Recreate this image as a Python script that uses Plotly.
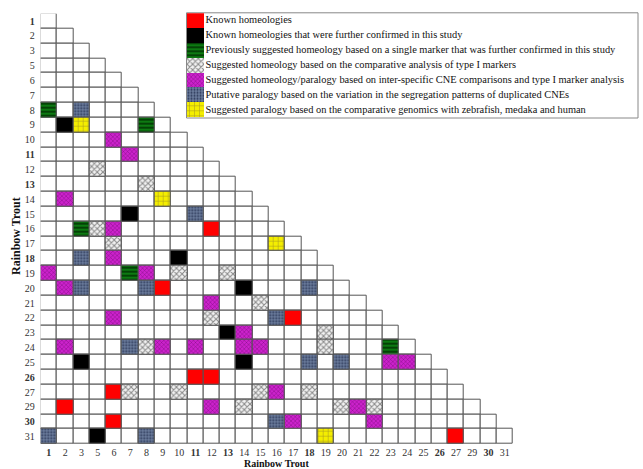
import plotly.graph_objects as go

# Rainbow trout chromosome arms shown on both axes (4 and 28 absent)
chromosomes = [1, 2, 3, 5, 6, 7, 8, 9, 10, 11, 12, 13, 14, 15, 16, 17, 18, 19,
               20, 21, 22, 23, 24, 25, 26, 27, 29, 30, 31]
bold_labels = [1, 11, 13, 18, 26, 30]

# Relationship categories: (row chromosome, column chromosome) pairs
known_homeologies = [(16, 12), (20, 9), (22, 17), (26, 11), (26, 12), (27, 6),
                     (29, 2), (30, 6), (31, 27)]
known_confirmed = [(9, 2), (15, 7), (18, 10), (20, 14), (23, 13), (25, 3),
                   (25, 14), (31, 5)]
single_marker_confirmed = [(8, 1), (9, 8), (16, 3), (19, 7), (24, 23)]
type1_homeology = [(12, 5), (13, 8), (16, 5), (17, 6), (19, 10), (19, 13),
                   (21, 15), (22, 12), (23, 19), (24, 8), (24, 19), (27, 7),
                   (27, 10), (27, 15), (27, 18), (29, 14), (29, 20), (29, 22)]
cne_homeology_paralogy = [(10, 6), (11, 7), (14, 2), (16, 6), (18, 6), (19, 1),
                          (19, 8), (20, 2), (21, 12), (22, 6), (23, 14), (24, 2),
                          (24, 9), (24, 11), (24, 14), (24, 15), (25, 23),
                          (25, 24), (27, 16), (29, 12), (29, 21), (30, 17),
                          (30, 22)]
putative_paralogy = [(8, 3), (15, 11), (18, 3), (20, 3), (20, 8), (20, 18),
                     (22, 16), (24, 7), (25, 18), (25, 20), (30, 16), (31, 1),
                     (31, 8)]
comparative_paralogy = [(9, 3), (14, 9), (17, 16), (31, 19)]

legend_labels = [
    "Known homeologies",
    "Known homeologies that were further confirmed in this study",
    "Previously suggested homeology based on a single marker that was further confirmed in this study",
    "Suggested homeology based on the comparative analysis of type I markers",
    "Suggested homeology/paralogy based on inter-specific CNE comparisons and type I marker analysis",
    "Putative paralogy based on the variation in the segregation patterns of duplicated CNEs",
    "Suggested paralogy based on the comparative genomics with zebrafish, medaka and human",
]

categories = [known_homeologies, known_confirmed, single_marker_confirmed,
              type1_homeology, cne_homeology_paralogy, putative_paralogy,
              comparative_paralogy]

# fill styles: background, pattern shape, pattern colour, size, solidity
styles = [
    dict(bgcolor="#ff0000", shape="", fgcolor="#ff0000", size=4, solidity=0.3),
    dict(bgcolor="#000000", shape="", fgcolor="#000000", size=4, solidity=0.3),
    dict(bgcolor="#0d7a12", shape="-", fgcolor="#002a00", size=4, solidity=0.35),
    dict(bgcolor="#f2f2f2", shape="x", fgcolor="#8a8a8a", size=4, solidity=0.45),
    dict(bgcolor="#cc22cc", shape="x", fgcolor="#7a0a7a", size=3, solidity=0.25),
    dict(bgcolor="#6c7d9e", shape=".", fgcolor="#2c3858", size=3, solidity=0.35),
    dict(bgcolor="#f4ee00", shape="+", fgcolor="#a89a20", size=5, solidity=0.2),
]

W, H = 643, 469
GRID_L, GRID_R, GRID_T, GRID_B = 40.7, 513.0, 13.7, 444.0
LINE = dict(color="#555555", width=1)
SERIF = "Liberation Serif, Times New Roman, serif"

idx = {c: i for i, c in enumerate(chromosomes)}
n = len(chromosomes)

fig = go.Figure()

# empty lower-triangle cells
xs, bases = [], []
for r in range(n):
    for c in range(r + 1):
        xs.append(c)
        bases.append(r - 0.5)
fig.add_trace(go.Bar(x=xs, y=[1] * len(xs), base=bases, width=1,
                     marker=dict(color="white", line=LINE),
                     showlegend=False, hoverinfo="skip"))


def fill_pattern(st):
    return dict(shape=st["shape"], fgcolor=st["fgcolor"], bgcolor=st["bgcolor"],
                size=st["size"], solidity=st["solidity"], fillmode="replace")


# coloured cells, one trace per relationship category
for label, cells, st in zip(legend_labels, categories, styles):
    cx = [idx[c] for r, c in cells]
    cb = [idx[r] - 0.5 for r, c in cells]
    fig.add_trace(go.Bar(x=cx, y=[1] * len(cx), base=cb, width=1, name=label,
                         marker=dict(color=st["bgcolor"], pattern=fill_pattern(st),
                                     line=LINE),
                         showlegend=False, hoverinfo="skip"))

# key: swatches and descriptions drawn on their own axes
LEG_L, LEG_R, LEG_T, LEG_B = 187.0, 638.0, 13.3, 117.5
k = len(legend_labels)
for i, st in enumerate(styles):
    fig.add_trace(go.Bar(x=[8.5], y=[1], base=[i - 0.5], width=17,
                         marker=dict(color=st["bgcolor"], pattern=fill_pattern(st),
                                     line=dict(color=st["bgcolor"], width=0)),
                         xaxis="x2", yaxis="y2", showlegend=False, hoverinfo="skip"))
fig.add_trace(go.Scatter(x=[18.5] * k, y=list(range(k)), text=legend_labels,
                         mode="text", textposition="middle right",
                         textfont=dict(family=SERIF, size=10.4, color="#111111"),
                         xaxis="x2", yaxis="y2", showlegend=False,
                         hoverinfo="skip", cliponaxis=False))

ticktext = [f"<b>{c}</b>" if c in bold_labels else str(c) for c in chromosomes]
tickfont = dict(family=SERIF, size=10, color="#333333")

fig.update_layout(
    width=W, height=H,
    margin=dict(l=0, r=0, t=0, b=0),
    paper_bgcolor="white", plot_bgcolor="rgba(0,0,0,0)",
    barmode="overlay", bargap=0,
    xaxis=dict(domain=[GRID_L / W, GRID_R / W], range=[-0.5, n - 0.5],
               tickmode="array", tickvals=list(range(n)), ticktext=ticktext,
               tickfont=tickfont, showgrid=False, zeroline=False, showline=False,
               ticks="", ticklabelstandoff=1, fixedrange=True),
    yaxis=dict(domain=[1 - GRID_B / H, 1 - GRID_T / H], range=[n - 0.5, -0.5],
               tickmode="array", tickvals=list(range(n)), ticktext=ticktext,
               tickfont=tickfont, showgrid=False, zeroline=False, showline=False,
               ticks="", ticklabelstandoff=5, fixedrange=True),
    xaxis2=dict(domain=[LEG_L / W, LEG_R / W], range=[0, LEG_R - LEG_L],
                anchor="y2", visible=False, fixedrange=True),
    yaxis2=dict(domain=[1 - LEG_B / H, 1 - LEG_T / H], range=[k - 0.5, -0.5],
                anchor="x2", visible=False, fixedrange=True),
    shapes=[dict(type="rect", xref="paper", yref="paper",
                 x0=(LEG_L - 0.5) / W, x1=LEG_R / W,
                 y0=1 - (LEG_B + 0.5) / H, y1=1 - (LEG_T - 0.5) / H,
                 line=dict(color="#888888", width=1), fillcolor="rgba(0,0,0,0)",
                 layer="below")],
    annotations=[
        dict(text="<b>Rainbow Trout</b>", xref="paper", yref="paper",
             x=16 / W, y=1 - 236 / H, xanchor="center", yanchor="middle",
             textangle=-90, showarrow=False,
             font=dict(family=SERIF, size=12, color="#111111")),
        dict(text="<b>Rainbow Trout</b>", xref="paper", yref="paper",
             x=(GRID_L + GRID_R) / 2 / W, y=-1 / H, xanchor="center",
             yanchor="bottom", borderpad=0, showarrow=False,
             font=dict(family=SERIF, size=10, color="#111111")),
    ],
)

fig.write_html("out.html")
